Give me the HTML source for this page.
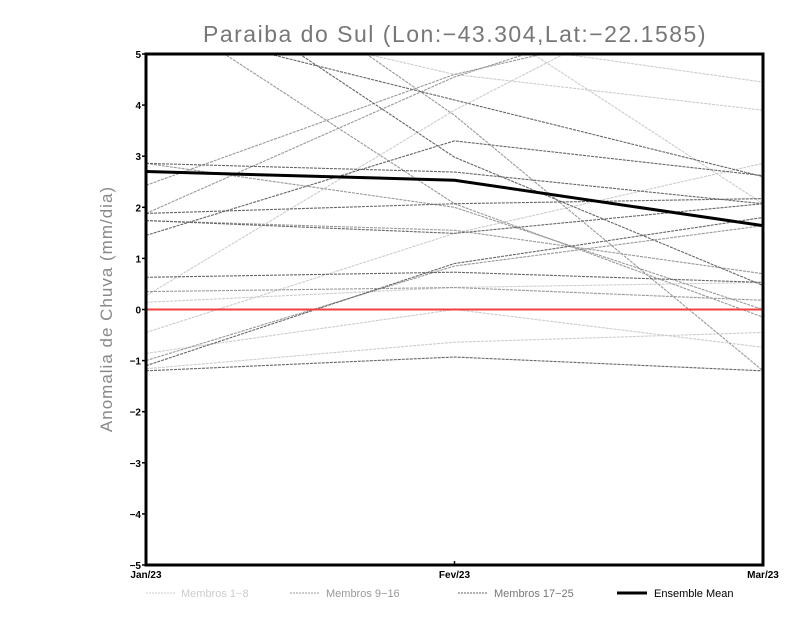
<!DOCTYPE html>
<html><head><meta charset="utf-8">
<style>
html,body{margin:0;padding:0;background:#fff;}
svg{display:block;font-family:"Liberation Sans",sans-serif;}
.tick{font-size:10px;font-weight:bold;fill:#000;}
</style></head>
<body>
<svg id="chart" width="800" height="618" viewBox="0 0 800 618">
<defs><clipPath id="plotclip"><rect x="146" y="54" width="617" height="511"/></clipPath></defs>
<text x="455" y="42" text-anchor="middle" font-size="23" fill="#777" letter-spacing="1.5" font-weight="300">Paraiba do Sul (Lon:−43.304,Lat:−22.1585)</text>
<text transform="translate(112,309) rotate(-90)" text-anchor="middle" font-size="17" fill="#888" letter-spacing="1">Anomalia de Chuva (mm/dia)</text>
<g id="series" clip-path="url(#plotclip)"></g>
<g id="axes"></g>
<g id="legend">
  <line x1="146" y1="593" x2="176" y2="593" stroke="#ccc" stroke-width="1" stroke-dasharray="2,1"/>
  <text x="181" y="597" font-size="11" fill="#ccc">Membros 1−8</text>
  <line x1="290" y1="593" x2="320" y2="593" stroke="#999" stroke-width="1" stroke-dasharray="2,1"/>
  <text x="326" y="597" font-size="11" fill="#999">Membros 9−16</text>
  <line x1="458" y1="593" x2="488" y2="593" stroke="#666" stroke-width="1" stroke-dasharray="2,1"/>
  <text x="494" y="597" font-size="11" fill="#777">Membros 17−25</text>
  <line x1="617" y1="593" x2="647" y2="593" stroke="#000" stroke-width="3"/>
  <text x="654" y="597" font-size="11" fill="#000">Ensemble Mean</text>
</g>
</svg>
<script>
const categories = ["Jan/23","Fev/23","Mar/23"];
const yTicks = [5,4,3,2,1,0,-1,-2,-3,-4,-5];
const membersLight = [
  [0.27,3.9,7.0],[0.14,0.43,0.53],[-0.45,1.49,2.86],[-0.86,0.0,-0.74],
  [-1.16,-0.64,-0.45],[9.0,5.3,4.45],[7.0,6.0,2.07],[6.0,4.6,3.9]
];
const membersMid = [
  [2.43,4.6,6.0],[1.88,4.55,6.5],[0.35,0.43,0.18],[-1.0,0.85,1.64],
  [1.74,1.55,0.7],[6.0,2.07,-0.15],[8.0,3.8,-1.2],[2.86,2.0,0.0]
];
const membersDark = [
  [2.86,2.69,2.07],[1.45,3.3,2.62],[1.88,2.07,2.17],[1.74,1.49,2.07],
  [0.63,0.73,0.53],[-1.1,0.9,1.8],[-1.2,-0.93,-1.2],[5.6,4.1,2.6],[7.0,2.98,0.47]
];
const ensembleMean = [2.70,2.53,1.64];

const NS="http://www.w3.org/2000/svg";
const X0=146,X1=763,Y0=54,Y1=565;
function xs(i){return X0+(X1-X0)*i/(categories.length-1);}
function ys(v){return Y1-(v+5)/10*(Y1-Y0);}
const series=document.getElementById('series');
const axes=document.getElementById('axes');
function poly(vals,color,w,dash,name,parent){
  const p=document.createElementNS(NS,'polyline');
  p.setAttribute('points',vals.map((v,i)=>xs(i)+','+ys(v)).join(' '));
  p.setAttribute('fill','none');p.setAttribute('stroke',color);p.setAttribute('stroke-width',w);
  if(dash)p.setAttribute('stroke-dasharray',dash);
  
  
  parent.appendChild(p);
}
membersLight.forEach((m,i)=>poly(m,'#cccccc',1.1,'3,1','member-line-light-'+(i+1),series));
membersMid.forEach((m,i)=>poly(m,'#999999',1.1,'3,1','member-line-mid-'+(i+9),series));
membersDark.forEach((m,i)=>poly(m,'#666666',1.1,'3,1','member-line-dark-'+(i+17),series));
// zero line
const z=document.createElementNS(NS,'line');
z.setAttribute('x1',X0);z.setAttribute('x2',X1);z.setAttribute('y1',ys(0));z.setAttribute('y2',ys(0));
z.setAttribute('stroke','#f04040');z.setAttribute('stroke-width','2');


series.appendChild(z);
poly(ensembleMean,'#000',3,null,'ensemble-mean-line',series);
// frame
const fr=document.createElementNS(NS,'rect');
fr.setAttribute('x',X0);fr.setAttribute('y',Y0);fr.setAttribute('width',X1-X0);fr.setAttribute('height',Y1-Y0);
fr.setAttribute('fill','none');fr.setAttribute('stroke','#000');fr.setAttribute('stroke-width','3');


axes.appendChild(fr);
yTicks.forEach(t=>{
  const l=document.createElementNS(NS,'line');
  l.setAttribute('x1',X0-4);l.setAttribute('x2',X0);l.setAttribute('y1',ys(t));l.setAttribute('y2',ys(t));
  l.setAttribute('stroke','#000');l.setAttribute('stroke-width','1.5');
  
  
  axes.appendChild(l);
  const tx=document.createElementNS(NS,'text');
  tx.setAttribute('x',X0-5);tx.setAttribute('y',ys(t)+4);tx.setAttribute('text-anchor','end');
  tx.setAttribute('class','tick');
  tx.textContent=t<0?'−'+Math.abs(t):String(t);
  
  
  axes.appendChild(tx);
});
categories.forEach((c,i)=>{
  const l=document.createElementNS(NS,'line');
  l.setAttribute('x1',xs(i));l.setAttribute('x2',xs(i));l.setAttribute('y1',Y1-4);l.setAttribute('y2',Y1);
  l.setAttribute('stroke','#000');l.setAttribute('stroke-width','1.5');
  
  
  axes.appendChild(l);
  const tx=document.createElementNS(NS,'text');
  tx.setAttribute('x',xs(i));tx.setAttribute('y',Y1+13);tx.setAttribute('text-anchor','middle');
  tx.setAttribute('class','tick');
  tx.textContent=c;
  
  
  axes.appendChild(tx);
});
</script>
</body></html>
